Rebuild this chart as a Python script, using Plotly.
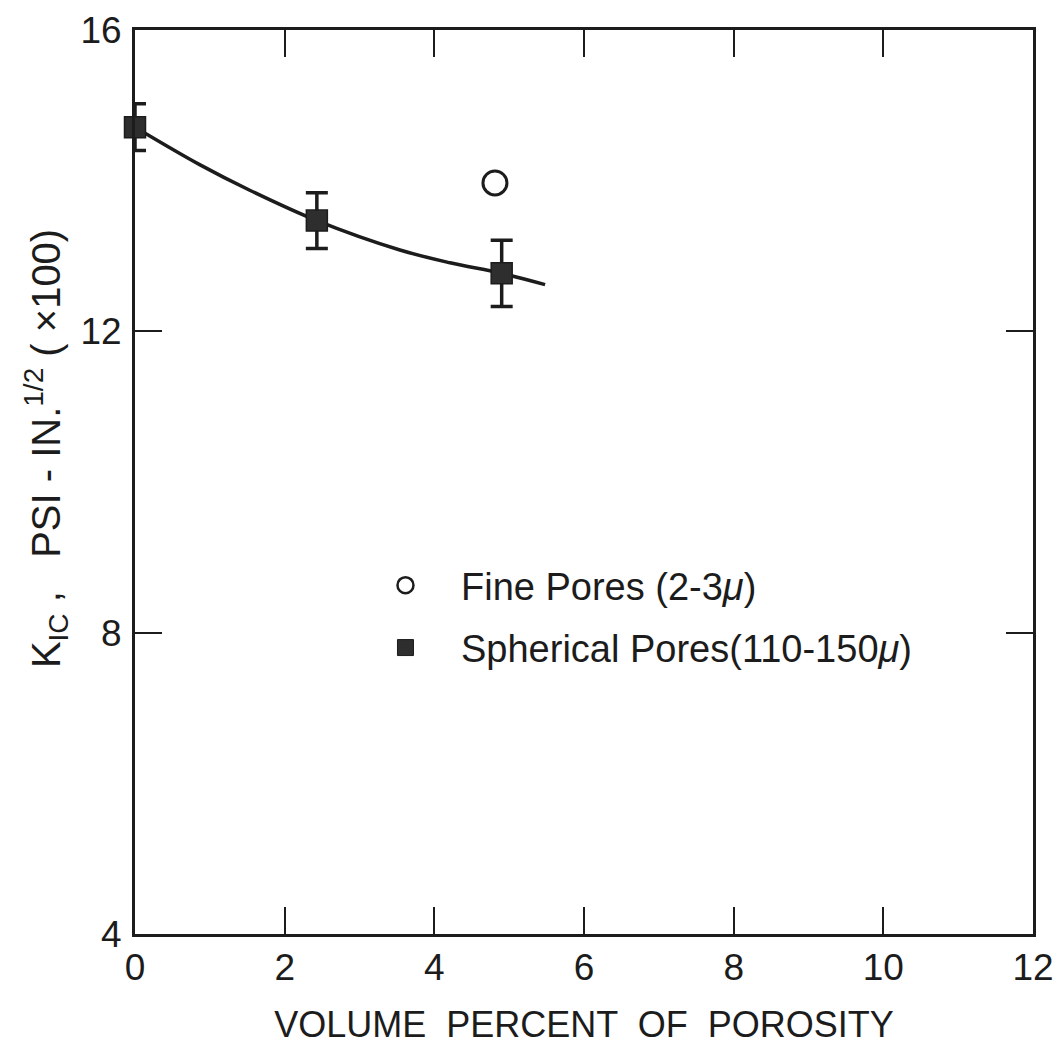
import plotly.graph_objects as go

# Data
sph_x = [0.0, 2.43, 4.90]
sph_y = [14.71, 13.47, 12.77]
sph_err = [0.31, 0.37, 0.44]

fine_x = [4.81]
fine_y = [13.97]

curve_x = [0.0, 0.87, 1.54, 2.43, 3.54, 4.21, 4.90, 5.48]
curve_y = [14.71, 14.21, 13.87, 13.47, 13.08, 12.91, 12.77, 12.62]

x_ticks = [0, 2, 4, 6, 8, 10, 12]
y_ticks = [4, 8, 12, 16]

legend_labels = ["Fine Pores (2-3<i>μ</i>)", "Spherical Pores(110-150<i>μ</i>)"]
x_title = "VOLUME  PERCENT  OF  POROSITY"
y_title = "K<sub>IC</sub> ,   PSI - IN.<sup>1/2</sup> ( ×100)"

INK = "#1c1c1c"
FONT = "Liberation Sans Narrow, Liberation Sans, DejaVu Sans"

fig = go.Figure()

fig.add_trace(go.Scatter(
    x=curve_x, y=curve_y, mode="lines", line=dict(color=INK, width=3.5, shape="spline", smoothing=1.0),
    showlegend=False, hoverinfo="skip"))

fig.add_trace(go.Scatter(
    x=sph_x, y=sph_y, mode="markers",
    marker=dict(symbol="square", size=21, color="#2e2e2e", line=dict(color=INK, width=1.5)),
    error_y=dict(type="data", array=sph_err, visible=True, color=INK, thickness=3.5, width=11),
    showlegend=False, cliponaxis=False))

fig.add_trace(go.Scatter(
    x=fine_x, y=fine_y, mode="markers",
    marker=dict(symbol="circle-open", size=24, color=INK, line=dict(color=INK, width=3)),
    showlegend=False))

# legend entries
fig.add_trace(go.Scatter(
    x=[None], y=[None], mode="markers", name=legend_labels[0], legendgroup="a",
    marker=dict(symbol="circle-open", size=22, color=INK, line=dict(color=INK, width=2.5))))
fig.add_trace(go.Scatter(
    x=[None], y=[None], mode="markers", name=legend_labels[1], legendgroup="b",
    marker=dict(symbol="square", size=20, color="#2e2e2e", line=dict(color=INK, width=1))))

axis_common = dict(
    showline=True, linecolor=INK, linewidth=3, mirror="ticks",
    ticks="inside", ticklen=27, tickwidth=2, tickcolor=INK,
    showgrid=False, zeroline=False, automargin=False,
    tickfont=dict(family=FONT, size=37, color=INK),
)

fig.update_xaxes(
    range=[0, 12], tickvals=x_ticks, ticktext=[str(v) for v in x_ticks],
    ticklabelstandoff=-1,
    title=dict(text=x_title, font=dict(family=FONT, size=36, color=INK), standoff=25),
    **axis_common)
fig.update_yaxes(
    range=[4, 16], tickvals=y_ticks, ticktext=[str(v) for v in y_ticks],
    ticklabelstandoff=3,
    **axis_common)

fig.add_annotation(
    text=y_title, textangle=-90, xref="paper", yref="paper",
    x=-0.099, y=0.5365, xanchor="center", yanchor="middle", showarrow=False,
    font=dict(family=FONT, size=40, color=INK))

# page body has an 8px margin, so the figure is offset by 8px
fig.update_layout(
    width=1061, height=1057,
    margin=dict(l=127, r=36, t=22, b=131),
    plot_bgcolor="white", paper_bgcolor="white",
    legend=dict(x=0.2394, y=0.4204, xanchor="left", yanchor="top",
                font=dict(family=FONT, size=38, color=INK),
                bgcolor="rgba(0,0,0,0)", traceorder="grouped", tracegroupgap=10,
                itemsizing="trace", itemwidth=101),
)

fig.write_html("out.html")
